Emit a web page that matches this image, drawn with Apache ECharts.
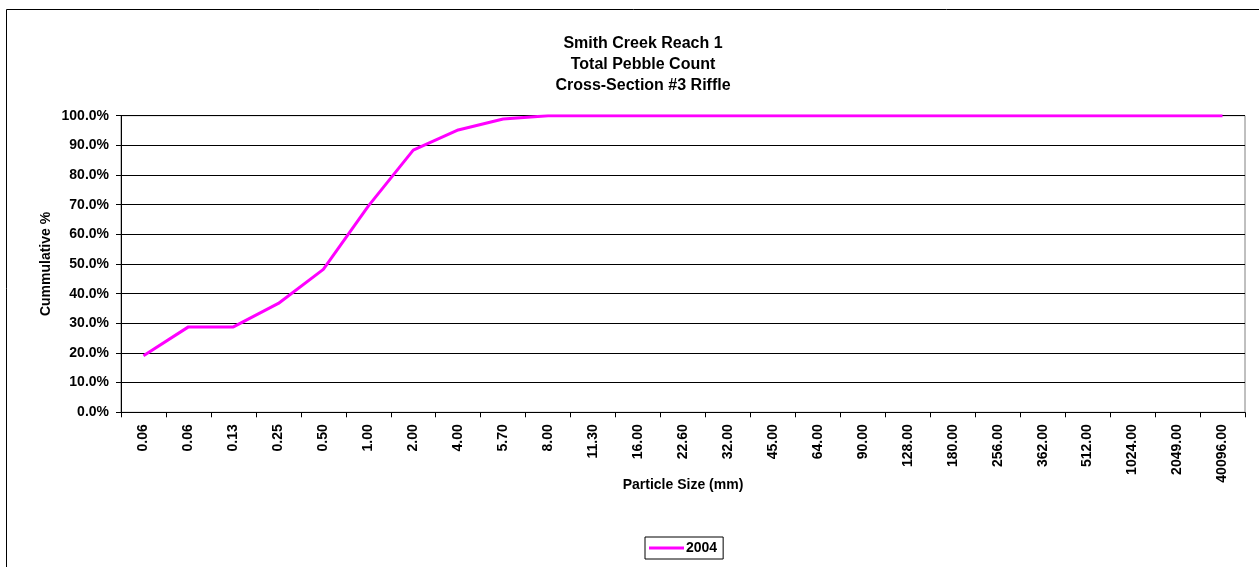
<!DOCTYPE html>
<html>
<head>
<meta charset="utf-8">
<script src="https://cdn.jsdelivr.net/npm/echarts@6/dist/echarts.min.js"></script>
<style>
  html, body { margin: 0; padding: 0; background: #fff; }
  #chart { width: 1259px; height: 567px; }
</style>
</head>
<body>
<div id="chart"></div>
<script>
var sizes = ['0.06', '0.06', '0.13', '0.25', '0.50', '1.00', '2.00', '4.00', '5.70', '8.00',
  '11.30', '16.00', '22.60', '32.00', '45.00', '64.00', '90.00', '128.00', '180.00', '256.00',
  '362.00', '512.00', '1024.00', '2049.00', '40096.00'];
var cum2004 = [19.1, 28.8, 28.8, 36.7, 48.2, 69.5, 88.4, 95.2, 98.9, 100,
  100, 100, 100, 100, 100, 100, 100, 100, 100, 100,
  100, 100, 100, 100, 100];

var font = 'Liberation Sans, Arial, sans-serif';
var chart = echarts.init(document.getElementById('chart'));

var option = {
  backgroundColor: '#fff',
  animation: false,
  title: {
    text: 'Smith Creek Reach 1\nTotal Pebble Count\nCross-Section #3 Riffle',
    left: 638,
    top: 28,
    textAlign: 'center',
    textStyle: { fontFamily: font, fontSize: 16, fontWeight: 'bold', color: '#000', lineHeight: 21 }
  },
  graphic: [
    { type: 'rect', shape: { x: 6.5, y: 9.5, width: 1300, height: 600 },
      style: { fill: null, stroke: '#000', lineWidth: 1 } }
  ],
  legend: {
    left: 645,
    top: 537,
    icon: 'rect',
    itemWidth: 35,
    itemHeight: 3,
    itemGap: 4,
    padding: [4, 6, 4, 4],
    borderColor: '#000',
    borderWidth: 1,
    textStyle: { fontFamily: font, fontSize: 14, fontWeight: 'bold', color: '#000', padding: [0, 0, 0, -3] },
    data: ['2004']
  },
  grid: {
    left: 121,
    right: 14,
    top: 115.7,
    bottom: 154.7,
    show: true,
    borderColor: '#808080',
    borderWidth: 1
  },
  xAxis: {
    type: 'category',
    data: sizes,
    boundaryGap: true,
    name: 'Particle Size (mm)',
    nameLocation: 'middle',
    nameGap: 66,
    nameMoveOverlap: false,
    nameTextStyle: { fontFamily: font, fontSize: 14, fontWeight: 'bold', color: '#000' },
    axisLine: { lineStyle: { color: '#000', width: 1 } },
    axisTick: { show: true, length: 5, alignWithLabel: false, interval: 0, lineStyle: { color: '#000' } },
    axisLabel: { rotate: 90, interval: 0, margin: 12, fontFamily: font, fontSize: 14, fontWeight: 'bold', color: '#000' },
    splitLine: { show: false }
  },
  yAxis: {
    type: 'value',
    min: 0,
    max: 100,
    interval: 10,
    name: 'Cummulative %',
    nameLocation: 'middle',
    nameGap: 68,
    nameMoveOverlap: false,
    nameTextStyle: { fontFamily: font, fontSize: 14, fontWeight: 'bold', color: '#000' },
    axisLine: { show: true, lineStyle: { color: '#000', width: 1 } },
    axisTick: { show: true, length: 5, lineStyle: { color: '#000' } },
    axisLabel: {
      margin: 12,
      fontFamily: font, fontSize: 14, fontWeight: 'bold', color: '#000',
      formatter: function (v) { return v.toFixed(1) + '%'; }
    },
    splitLine: { show: true, lineStyle: { color: '#000', width: 1 } }
  },
  series: [
    {
      name: '2004',
      type: 'line',
      data: cum2004,
      symbol: 'none',
      lineStyle: { color: '#FF00FF', width: 3 },
      itemStyle: { color: '#FF00FF' }
    }
  ]
};
chart.setOption(option);
</script>
</body>
</html>
